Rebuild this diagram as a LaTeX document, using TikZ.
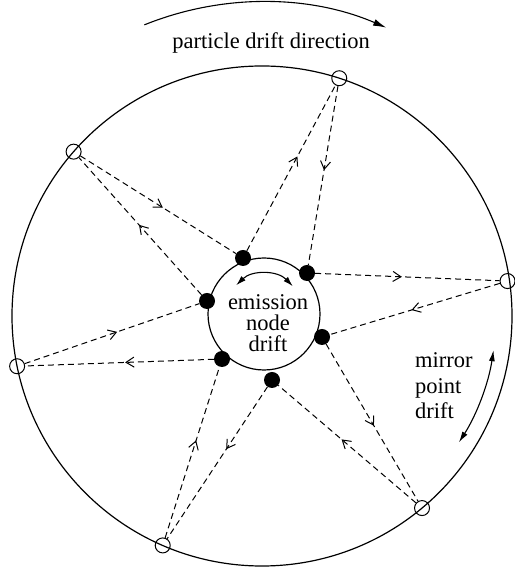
\documentclass[tikz,border=0pt]{standalone}
\usepackage{fontspec}
\setmainfont{Liberation Serif}
\usetikzlibrary{arrows.meta,decorations.markings,calc}
\begin{document}
\begin{tikzpicture}[x=1pt,y=1pt,
  dashline/.style={dash pattern=on 6pt off 4pt, line width=1pt},
  midarr/.style={postaction={decorate,decoration={markings,mark=at position #1 with {\arrow[solid,line width=1pt]{Straight Barb[length=8pt,width=10pt]}}}}},
  opendot/.style={circle,draw,line width=1pt,minimum size=15pt,inner sep=0pt},
  fulldot/.style={circle,fill,minimum size=16pt,inner sep=0pt},
  lbl/.style={align=center,inner sep=0pt}]
\useasboundingbox (0,0) rectangle (514,569);
\coordinate (O) at (262,253);
\coordinate (S) at (264,255);
% circles
\draw[line width=1.2pt] (O) circle[radius=250];
\draw[line width=1.2pt] (S) circle[radius=56];
% open circles on the big circle
\node[opendot] (T)  at ($(O)+(72:250)$) {};
\node[opendot] (R)  at ($(O)+(8.1:248)$) {};
\node[opendot] (BR) at ($(O)+(309.8:250)$) {};
\node[opendot] (BL) at ($(O)+(246.6:250)$) {};
\node[opendot] (L)  at ($(O)+(191.6:250)$) {};
\node[opendot] (UL) at ($(O)+(138.9:250)$) {};
% emission dots
\node[fulldot] (A) at (243,311) {};
\node[fulldot] (B) at (307,296) {};
\node[fulldot] (C) at (322,232) {};
\node[fulldot] (D) at (272,189) {};
\node[fulldot] (E) at (222,210) {};
\node[fulldot] (F) at (207,268) {};
% trajectories
\draw[dashline,midarr=0.57] (A) -- (T);
\draw[dashline,midarr=0.47] (T) -- (B);
\draw[dashline,midarr=0.47] (B) -- (R);
\draw[dashline,midarr=0.52] (R) -- (C);
\draw[dashline,midarr=0.52] (C) -- (BR);
\draw[dashline,midarr=0.54] (BR) -- (D);
\draw[dashline,midarr=0.41] (D) -- (BL);
\draw[dashline,midarr=0.57] (BL) -- (E);
\draw[dashline,midarr=0.47] (E) -- (L);
\draw[dashline,midarr=0.53] (L) -- (F);
\draw[dashline,midarr=0.51] (F) -- (UL);
\draw[dashline,midarr=0.53] (UL) -- (A);
% drift arrows
\draw[line width=1.1pt,-{Latex[length=13pt,width=7pt]}] ($(O)+(112:314)$) arc[start angle=112, end angle=66.7, radius=314];
\draw[line width=1.1pt,{Latex[length=11pt,width=6pt]}-{Latex[length=11pt,width=6pt]}] ($(O)+(-8.4:234)$) arc[start angle=-8.4, end angle=-32.7, radius=234];
\draw[line width=1.1pt,{Latex[length=10pt,width=6pt]}-{Latex[length=10pt,width=6pt]}] ($(S)+(134:40)$) arc[start angle=134, end angle=44, radius=40];
% labels
\node[lbl,font=\fontsize{22.5}{21}\selectfont] (title) at (271,526) {particle drift direction};
\node[lbl,font=\fontsize{22.5}{21}\selectfont] (emis) at (268,246) {emission\\node\\drift};
\node[lbl,align=left,anchor=west,font=\fontsize{22.5}{25.5}\selectfont] (mirror) at (415,183) {mirror\\point\\drift};
\end{tikzpicture}
\end{document}
